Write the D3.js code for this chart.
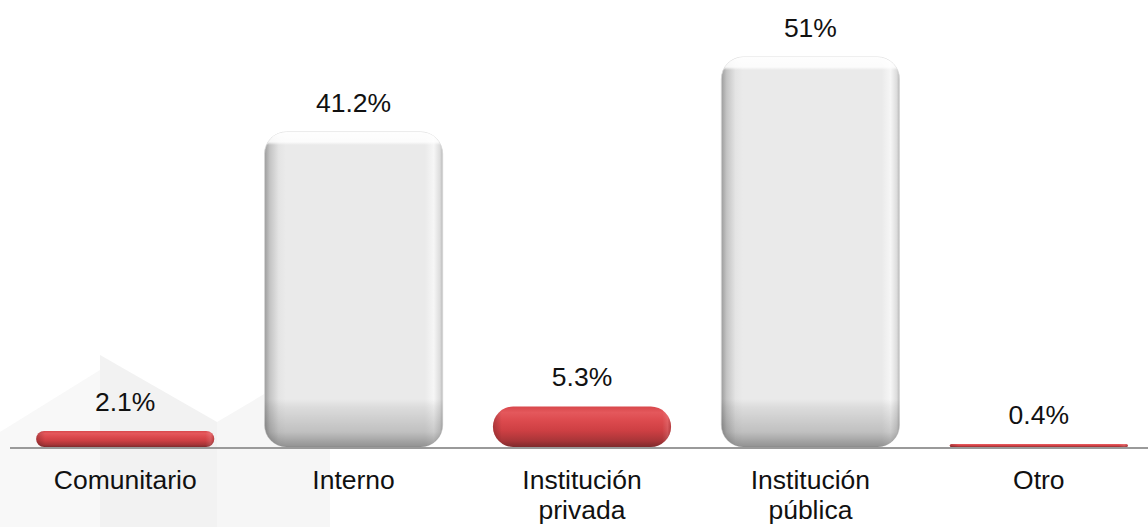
<!DOCTYPE html>
<meta charset="utf-8">
<style>
body { margin: 0; background: #fff; font-family: "Liberation Sans", Arial, sans-serif; }
.val { font-size: 26.5px; fill: #111; text-anchor: middle; }
.cat { font-size: 26.5px; fill: #111; text-anchor: middle; }
</style>
<body>
<script src="https://cdn.jsdelivr.net/npm/d3@7/dist/d3.min.js"></script>
<script>
var categories = ["Comunitario", "Interno", "Institución privada", "Institución pública", "Otro"];
var catLines = [["Comunitario"], ["Interno"], ["Institución", "privada"], ["Institución", "pública"], ["Otro"]];
var values = [2.1, 41.2, 5.3, 51, 0.4];
var valueLabels = ["2.1%", "41.2%", "5.3%", "51%", "0.4%"];
var barKind = ["red", "gray", "red", "gray", "red"];

var width = 1148, height = 527, baseY = 447;

var svg = d3.select("body").append("svg")
  .attr("width", width).attr("height", height);
var defs = svg.append("defs");

// faint watermark in the lower-left corner
var wm = svg.append("g");
wm.append("polygon").attr("points", "0,432 100,370 100,527 0,527").attr("fill", "#f8f8f8");
wm.append("polygon").attr("points", "100,355 217,422 217,527 100,527").attr("fill", "#f2f2f2");
wm.append("polygon").attr("points", "217,422 330,355 330,527 217,527").attr("fill", "#f6f6f6");

var x = d3.scaleBand().domain(categories).range([11, 1153]).paddingInner(0.22).paddingOuter(0.11);
var y = d3.scaleLinear().domain([0, 51]).range([baseY, 57]);

function stops(g, list) {
  list.forEach(function (s) {
    g.append("stop").attr("offset", s[0]).attr("stop-color", s[1]).attr("stop-opacity", s[2] == null ? 1 : s[2]);
  });
}

var bars = svg.append("g");
categories.forEach(function (c, i) {
  var bx = x(c), bw = x.bandwidth(), top = y(values[i]), bh = baseY - top;
  var r = Math.min(22, bh / 2);
  var g = bars.append("g");
  if (barKind[i] === "gray") {
    var hg = defs.append("linearGradient").attr("id", "h" + i).attr("x1", 0).attr("x2", 1).attr("y1", 0).attr("y2", 0);
    stops(hg, [[0, "#9c9c9c"], [0.03, "#c4c4c4"], [0.08, "#e4e4e4"], [0.12, "#eaeaea"], [0.9, "#eaeaea"], [0.95, "#f6f6f6"], [0.985, "#dcdcdc"], [1, "#b8b8b8"]]);
    var vg = defs.append("linearGradient").attr("id", "v" + i).attr("x1", 0).attr("x2", 0).attr("y1", 0).attr("y2", 1);
    var f = function (px) { return Math.max(0, Math.min(1, px / bh)); };
    stops(vg, [[0, "#ffffff", 0.95], [f(10), "#ffffff", 0.85], [f(13), "#ffffff", 0],
      [f(bh - 48), "#000000", 0], [f(bh - 40), "#000000", 0.06], [f(bh - 15), "#000000", 0.18], [1, "#000000", 0.38]]);
    g.append("rect").attr("x", bx).attr("y", top).attr("width", bw).attr("height", bh)
      .attr("rx", r).attr("ry", r).attr("fill", "url(#h" + i + ")")
      .attr("stroke", "#d6d6d6").attr("stroke-width", 0.8);
    g.append("rect").attr("x", bx).attr("y", top).attr("width", bw).attr("height", bh)
      .attr("rx", r).attr("ry", r).attr("fill", "url(#v" + i + ")");
  } else {
    var rg = defs.append("linearGradient").attr("id", "v" + i).attr("x1", 0).attr("x2", 0).attr("y1", 0).attr("y2", 1);
    stops(rg, [[0, "#d8474b"], [0.15, "#e4585c"], [0.35, "#dc4a4e"], [0.6, "#cd3f43"], [0.85, "#a83538"], [1, "#7e2a2c"]]);
    var rh = defs.append("linearGradient").attr("id", "h" + i).attr("x1", 0).attr("x2", 1).attr("y1", 0).attr("y2", 0);
    stops(rh, [[0, "#000000", 0.2], [0.05, "#000000", 0], [0.95, "#ffffff", 0], [0.98, "#ffffff", 0.12], [1, "#000000", 0.15]]);
    g.append("rect").attr("x", bx).attr("y", top).attr("width", bw).attr("height", bh)
      .attr("rx", r).attr("ry", r).attr("fill", "url(#v" + i + ")");
    g.append("rect").attr("x", bx).attr("y", top).attr("width", bw).attr("height", bh)
      .attr("rx", r).attr("ry", r).attr("fill", "url(#h" + i + ")");
  }
});

// baseline
svg.append("line").attr("x1", 10).attr("x2", width).attr("y1", baseY + 1).attr("y2", baseY + 1)
  .attr("stroke", "#9a9a9a").attr("stroke-width", 2);

// value labels
svg.selectAll(".val").data(values).enter().append("text")
  .attr("class", "val")
  .attr("x", function (d, i) { return x(categories[i]) + x.bandwidth() / 2; })
  .attr("y", function (d) { return y(d) - 20; })
  .text(function (d, i) { return valueLabels[i]; });

// category labels
categories.forEach(function (c, i) {
  var t = svg.append("text").attr("class", "cat")
    .attr("x", x(c) + x.bandwidth() / 2).attr("y", 489);
  catLines[i].forEach(function (l, j) {
    t.append("tspan").attr("x", x(c) + x.bandwidth() / 2).attr("dy", j ? 30 : 0).text(l);
  });
});
</script>
</body>
